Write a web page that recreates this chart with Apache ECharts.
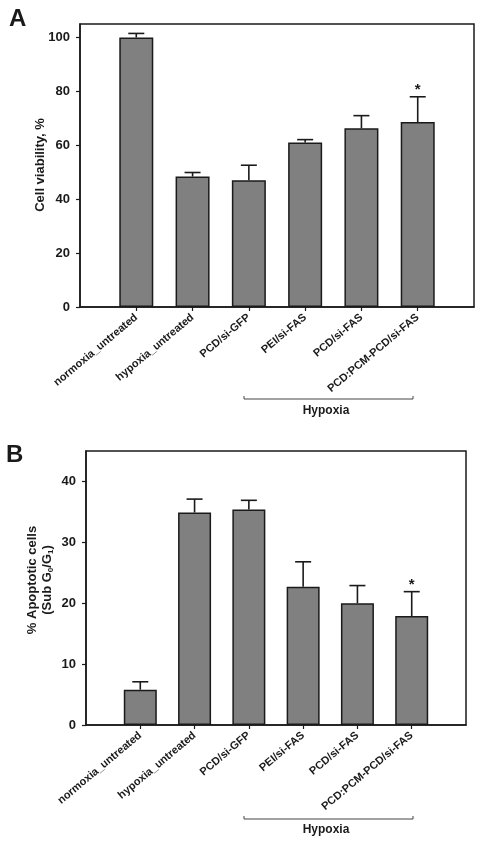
<!DOCTYPE html>
<html><head><meta charset="utf-8">
<script src="https://cdn.jsdelivr.net/npm/echarts@6/dist/echarts.min.js"></script>
<style>html,body{margin:0;padding:0;background:#fff}#c{width:484px;height:845px}</style>
</head><body><div id="c"></div>
<script>
const categories = ['normoxia_untreated','hypoxia_untreated','PCD/si-GFP','PEI/si-FAS','PCD/si-FAS','PCD:PCM-PCD/si-FAS'];
const viability = [100, 48.4, 47.0, 61.0, 66.3, 68.6];
const viabilityErr = [1.5, 1.5, 5.6, 1.1, 4.7, 9.4];
const apoptosis = [5.8, 34.9, 35.4, 22.7, 20.0, 17.9];
const apoptosisErr = [1.3, 2.2, 1.5, 4.1, 2.9, 4.0];
const significant = [0, 0, 0, 0, 0, 1];
const ticksA = [0, 20, 40, 60, 80, 100];
const ticksB = [0, 10, 20, 30, 40];
const groupLabel = 'Hypoxia';

const FONT = '"Liberation Sans", Arial, sans-serif';
const INK = '#1a1a1a';
const axisCats = [''].concat(categories, ['']);
const pad = arr => ['-'].concat(arr, ['-']);
const errData = (vals, errs) => vals.map((v, i) => [i + 1, v, errs[i], significant[i]]);

function errRender(params, api) {
  const x = api.value(0), y = api.value(1), e = api.value(2), sig = api.value(3);
  const base = api.coord([x, y]);
  const top = api.coord([x, y + e]);
  const hw = 8;
  const children = [
    {type: 'line', shape: {x1: base[0], y1: base[1], x2: top[0], y2: top[1]}, style: {stroke: INK, lineWidth: 1.6}},
    {type: 'line', shape: {x1: top[0] - hw, y1: top[1], x2: top[0] + hw, y2: top[1]}, style: {stroke: INK, lineWidth: 1.6}}
  ];
  if (sig) {
    children.push({type: 'text', x: top[0], y: top[1] + 1, style: {text: '*', font: 'bold 15px ' + FONT, fill: INK, align: 'center', verticalAlign: 'bottom'}});
  }
  return {type: 'group', children};
}

function xAxisCfg(gi) {
  return {
    type: 'category', gridIndex: gi, data: axisCats, boundaryGap: false,
    axisLine: {lineStyle: {color: INK, width: 1.5}},
    axisTick: {show: true, length: 4, interval: (i) => i > 0 && i < 7, lineStyle: {color: INK, width: 1.2}},
    axisLabel: {interval: 0, rotate: 40, margin: 9, color: INK, fontFamily: FONT, fontWeight: 'bold', fontSize: 11},
    splitLine: {show: false}
  };
}
function yAxisCfg(gi, max, interval, ticks) {
  return {
    type: 'value', gridIndex: gi, min: 0, max, interval,
    axisLine: {show: true, lineStyle: {color: INK, width: 1.5}},
    axisTick: {show: true, length: 4, customValues: ticks, lineStyle: {color: INK, width: 1.2}},
    axisLabel: {color: INK, fontFamily: FONT, fontWeight: 'bold', fontSize: 13, margin: 10, customValues: ticks},
    splitLine: {show: false}
  };
}

const chart = echarts.init(document.getElementById('c'), null, {renderer: 'canvas'});
chart.setOption({
  animation: false,
  backgroundColor: '#fff',
  grid: [
    {left: 80, top: 24, width: 394, height: 283, show: true, borderColor: INK, borderWidth: 1.5, backgroundColor: 'transparent'},
    {left: 86, top: 451, width: 380, height: 274, show: true, borderColor: INK, borderWidth: 1.5, backgroundColor: 'transparent'}
  ],
  xAxis: [xAxisCfg(0), xAxisCfg(1)],
  yAxis: [yAxisCfg(0, 105, 20, ticksA), yAxisCfg(1, 45, 10, ticksB)],
  series: [
    {type: 'bar', xAxisIndex: 0, yAxisIndex: 0, data: pad(viability), barWidth: 34,
      itemStyle: {color: '#808080', borderColor: INK, borderWidth: 1.5}},
    {type: 'custom', xAxisIndex: 0, yAxisIndex: 0, data: errData(viability, viabilityErr), renderItem: errRender, z: 5},
    {type: 'bar', xAxisIndex: 1, yAxisIndex: 1, data: pad(apoptosis), barWidth: 33,
      itemStyle: {color: '#808080', borderColor: INK, borderWidth: 1.5}},
    {type: 'custom', xAxisIndex: 1, yAxisIndex: 1, data: errData(apoptosis, apoptosisErr), renderItem: errRender, z: 5}
  ],
  graphic: [
    {type: 'text', left: 9, top: 7, style: {text: 'A', font: 'bold 24px ' + FONT, fill: INK}},
    {type: 'text', left: 6, top: 443, style: {text: 'B', font: 'bold 24px ' + FONT, fill: INK}},
    {type: 'text', x: 40, y: 165, rotation: Math.PI / 2,
      style: {text: 'Cell viability, %', font: 'bold 13px ' + FONT, fill: INK, align: 'center', verticalAlign: 'middle'}},
    {type: 'text', x: 40, y: 580, rotation: Math.PI / 2,
      style: {text: '{a|% Apoptotic cells}\n{a|(Sub G}{s|0}{a|/G}{s|1}{a|)}', align: 'center', verticalAlign: 'middle', fill: INK,
        rich: {
          a: {font: 'bold 13px ' + FONT, fill: INK, lineHeight: 15},
          s: {font: 'bold 8px ' + FONT, fill: INK, lineHeight: 15, verticalAlign: 'bottom', padding: [5, 0, 0, 0]}
        }}},
    {type: 'polyline', shape: {points: [[244, 396], [244, 399], [413, 399], [413, 396]]}, style: {stroke: '#444', lineWidth: 1, fill: null}},
    {type: 'text', x: 326, y: 411, style: {text: groupLabel, font: 'bold 12px ' + FONT, fill: INK, align: 'center', verticalAlign: 'middle'}},
    {type: 'polyline', shape: {points: [[244, 816], [244, 819], [413, 819], [413, 816]]}, style: {stroke: '#444', lineWidth: 1, fill: null}},
    {type: 'text', x: 326, y: 830, style: {text: groupLabel, font: 'bold 12px ' + FONT, fill: INK, align: 'center', verticalAlign: 'middle'}}
  ]
});
</script></body></html>
